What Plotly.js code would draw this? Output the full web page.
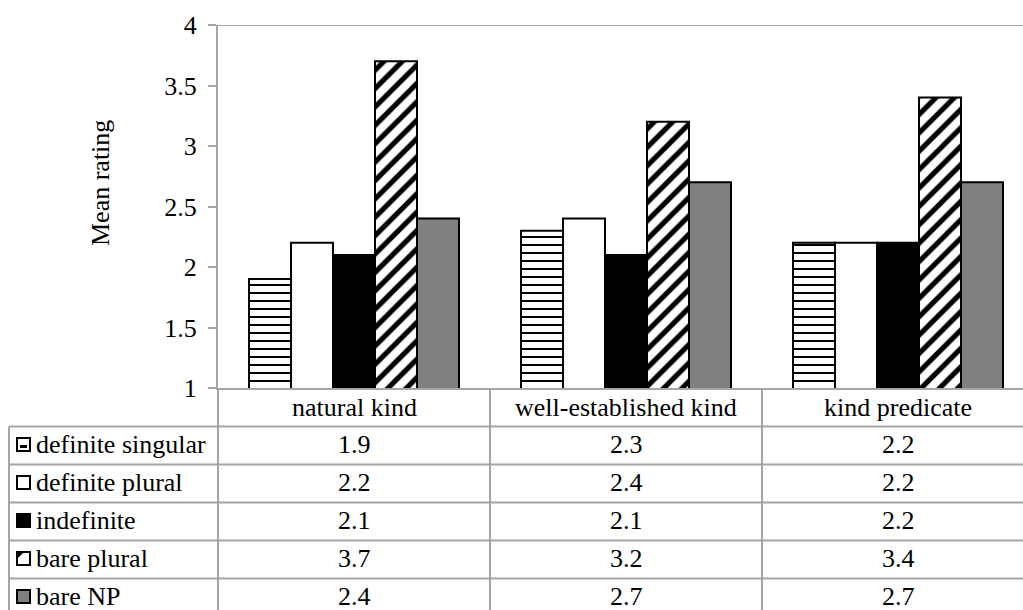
<!DOCTYPE html>
<html>
<head>
<meta charset="utf-8">
<script src="https://cdn.plot.ly/plotly-3.0.1.min.js"></script>
<style>html,body{margin:0;padding:0;background:#fff;}#chart{width:1023px;height:610px;}</style>
</head>
<body>
<div id="chart"></div>
<script>
// ---- data ----
const categories = ["natural kind", "well-established kind", "kind predicate"];
const seriesNames = ["definite singular", "definite plural", "indefinite", "bare plural", "bare NP"];
const definiteSingular = [1.9, 2.3, 2.2];
const definitePlural   = [2.2, 2.4, 2.2];
const indefinite       = [2.1, 2.1, 2.2];
const barePlural       = [3.7, 3.2, 3.4];
const bareNP           = [2.4, 2.7, 2.7];
const yTickVals = [1, 1.5, 2, 2.5, 3, 3.5, 4];
const yTitle = "Mean rating";

const seriesValues = [definiteSingular, definitePlural, indefinite, barePlural, bareNP];

// ---- styles ----
const FONT = "Liberation Serif";
const FS = 26;
const GRID = "#a6a6a6";
const W = 1023, H = 610;
const L = 218, T = 25, B = 388;            // plot area in px
const PW = W - L, PH = B - T;
const px2x = p => (p - L) / PW;
const px2y = p => (B - p) / PH;

const styles = [
  {color: "white", pattern: {shape: "-", bgcolor: "white", fgcolor: "black", size: 8, solidity: 0.25}},
  {color: "white"},
  {color: "black"},
  {color: "white", pattern: {shape: "/", bgcolor: "white", fgcolor: "black", size: 13, solidity: 0.4}},
  {color: "#808080"}
];

const traces = seriesNames.map((name, i) => {
  const m = {color: styles[i].color, line: {color: "black", width: 2}};
  if (styles[i].pattern) m.pattern = Object.assign({fillmode: "replace"}, styles[i].pattern);
  return {type: "bar", name: name, x: categories, y: seriesValues[i], marker: m, showlegend: false};
});

// ---- table ----
const shapes = [];
const annotations = [];
const rowTop = [388, 426.5, 464.5, 502.5, 540.5, 578.5, 616.5];
shapes.push({type: "line", xref: "paper", yref: "y", x0: px2x(210), x1: 1.05, y0: 4, y1: 4, line: {color: GRID, width: 2}});
for (let r = 1; r < rowTop.length; r++) {
  shapes.push({type: "line", xref: "paper", yref: "paper", x0: px2x(9), x1: 1.05, y0: px2y(rowTop[r]), y1: px2y(rowTop[r]), line: {color: GRID, width: 2}});
}
shapes.push({type: "line", xref: "paper", yref: "paper", x0: px2x(9), x1: px2x(9), y0: px2y(rowTop[1]), y1: px2y(rowTop[6]), line: {color: GRID, width: 2}});
shapes.push({type: "line", xref: "paper", yref: "paper", x0: 0, x1: 0, y0: 0, y1: px2y(rowTop[6]), line: {color: GRID, width: 2}});
for (let c = 0; c < categories.length; c++) {
  shapes.push({type: "line", xref: "x", yref: "paper", x0: c + 0.5, x1: c + 0.5, y0: 0, y1: px2y(rowTop[6]), line: {color: GRID, width: 2}});
}
categories.forEach((cat, c) => {
  annotations.push({xref: "x", yref: "paper", x: c, y: px2y((rowTop[0] + rowTop[1]) / 2), text: cat, showarrow: false,
    xanchor: "center", yanchor: "middle", font: {family: FONT, size: FS, color: "black"}});
});
const keyFill = ["white", "white", "black", "white", "#808080"];
seriesNames.forEach((name, i) => {
  const yc = (rowTop[i + 1] + rowTop[i + 2]) / 2 - 1;
  annotations.push({xref: "paper", yref: "paper", x: px2x(34), y: px2y(yc), text: name, showarrow: false,
    xanchor: "left", yanchor: "middle", font: {family: FONT, size: FS, color: "black"}});
  shapes.push({type: "rect", xref: "paper", yref: "paper", x0: px2x(17), x1: px2x(30), y0: px2y(yc + 6.5), y1: px2y(yc - 6.5),
    fillcolor: keyFill[i], line: {color: "black", width: 2}});
  if (i === 0) {
    shapes.push({type: "rect", xref: "paper", yref: "paper", x0: px2x(20), x1: px2x(27), y0: px2y(yc + 3.5), y1: px2y(yc + 0.5),
      fillcolor: "black", line: {width: 0}});
  }
  if (i === 3) {
    const pth = `M ${px2x(17)} ${px2y(yc - 6.5)} L ${px2x(24)} ${px2y(yc - 6.5)} L ${px2x(17)} ${px2y(yc + 0.5)} Z`;
    shapes.push({type: "path", xref: "paper", yref: "paper", path: pth, fillcolor: "black", line: {width: 0}});
  }
  seriesValues[i].forEach((v, c) => {
    annotations.push({xref: "x", yref: "paper", x: c, y: px2y(yc), text: v.toFixed(1), showarrow: false,
      xanchor: "center", yanchor: "middle", font: {family: FONT, size: FS, color: "black"}});
  });
});
annotations.push({xref: "paper", yref: "paper", x: px2x(101), y: px2y(183), text: yTitle, textangle: -90, showarrow: false,
  xanchor: "center", yanchor: "middle", font: {family: FONT, size: FS, color: "black"}});

const layout = {
  width: W, height: H,
  margin: {l: L, r: 0, t: T, b: H - B, pad: 0},
  paper_bgcolor: "white", plot_bgcolor: "white",
  font: {family: FONT, size: FS, color: "black"},
  barmode: "group", bargap: 0.228, bargroupgap: 0,
  xaxis: {type: "category", categoryorder: "array", categoryarray: categories, range: [-0.5, -0.5 + 3 * PW / 816],
    showticklabels: false, ticks: "", showline: true, linecolor: GRID, linewidth: 2, showgrid: false, zeroline: false, fixedrange: true},
  yaxis: {range: [1, 4], tickvals: yTickVals, ticktext: yTickVals.map(String), ticks: "outside", ticklen: 8, tickwidth: 2, tickcolor: GRID,
    showline: true, linecolor: GRID, linewidth: 2, showgrid: false, zeroline: false, ticklabelstandoff: 6,
    tickfont: {family: FONT, size: FS, color: "black"}, fixedrange: true},
  shapes: shapes,
  annotations: annotations,
  showlegend: false
};

Plotly.newPlot("chart", traces, layout, {staticPlot: true, displayModeBar: false});
</script>
</body>
</html>
